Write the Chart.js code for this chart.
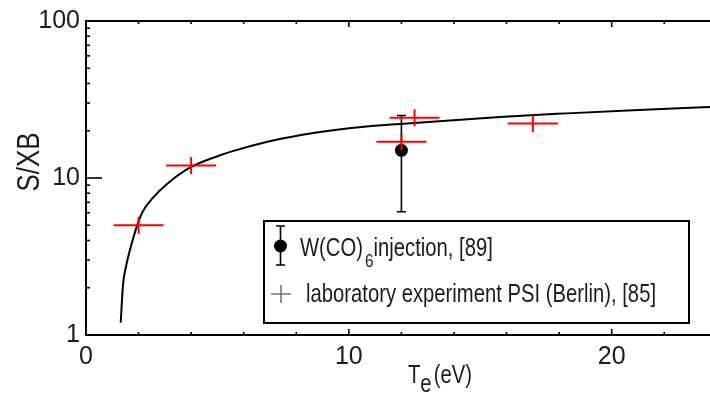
<!DOCTYPE html>
<html>
<head>
<meta charset="utf-8">
<script src="https://cdn.jsdelivr.net/npm/chart.js@4.4.1/dist/chart.umd.min.js"></script>
<style>
  html, body { margin: 0; padding: 0; background: #ffffff; }
  #wrap { width: 710px; height: 394px; }
</style>
</head>
<body>
<div id="wrap"><canvas id="c" width="710" height="394"></canvas></div>
<script>
const TEXT_COLOR = '#1c1c1c';
const FONT = '"Liberation Sans", Arial, sans-serif';
const SQUEEZE = 0.81;   // horizontal compression for the condensed-looking labels

// Model S/XB curve versus electron temperature
const curveTe  = [1.32, 1.41, 1.54, 1.73, 1.96, 2.17, 2.55, 3.06, 3.95, 5.02, 5.58, 6.87, 8.13, 9.4, 10.67, 11.94, 15.75, 18.29, 20.82, 23.74];
const curveSxb = [1.2, 2.1, 2.82, 3.78, 5.07, 6.16, 7.49, 9.09, 11.63, 13.8, 14.84, 16.96, 18.71, 20.13, 21.26, 22.11, 24.5, 25.8, 27.0, 28.3];

// Laboratory experiment PSI (Berlin), [85]
const labTe    = [2, 4, 12, 12.5, 17];
const labSxb   = [5.0, 12.0, 17.0, 24.2, 22.2];
const labTeErr = [0.95, 0.95, 0.95, 0.95, 0.95];

// W(CO)6 injection, [89]
const injTe   = [12];
const injSxb  = [15];
const injLow  = [6.1];
const injHigh = [25];

// Axis ticks and labels
const xTicks = [0, 2, 4, 6, 8, 10, 12, 14, 16, 18, 20, 22];
const xTickLabels = [0, 10, 20];
const yTicks = [1, 2, 3, 4, 5, 6, 7, 8, 9, 10, 20, 30, 40, 50, 60, 70, 80, 90, 100];
const yTickLabels = [1, 10, 100];

const X_MIN = 0, X_MAX = 23.74;

// draw text horizontally compressed, returns advance width
function squeezedText(ctx, text, x, y) {
  ctx.save();
  ctx.translate(x, y);
  ctx.scale(SQUEEZE, 1);
  ctx.fillText(text, 0, 0);
  ctx.restore();
  return ctx.measureText(text).width * SQUEEZE;
}

const framePlugin = {
  id: 'frame',
  beforeDatasetsDraw(chart) {
    // vertical error bar of the injection measurement
    const { ctx, scales: { x, y } } = chart;
    ctx.save();
    ctx.strokeStyle = '#000';
    ctx.lineWidth = 1.6;
    injTe.forEach((t, i) => {
      const px = x.getPixelForValue(t);
      const top = y.getPixelForValue(injHigh[i]);
      const bot = y.getPixelForValue(injLow[i]);
      ctx.beginPath();
      ctx.moveTo(px, top); ctx.lineTo(px, bot);
      ctx.moveTo(px - 4.5, top); ctx.lineTo(px + 4.5, top);
      ctx.moveTo(px - 4.5, bot); ctx.lineTo(px + 4.5, bot);
      ctx.stroke();
    });
    ctx.restore();
  },
  afterDatasetsDraw(chart) {
    const { ctx, scales: { x, y } } = chart;
    ctx.save();
    // horizontal error bars of the laboratory points
    ctx.strokeStyle = '#ff0000';
    ctx.lineWidth = 2;
    labTe.forEach((t, i) => {
      const py = y.getPixelForValue(labSxb[i]);
      ctx.beginPath();
      ctx.moveTo(x.getPixelForValue(t - labTeErr[i]), py);
      ctx.lineTo(x.getPixelForValue(t + labTeErr[i]), py);
      ctx.stroke();
    });
    ctx.restore();
  },
  afterDraw(chart) {
    const { ctx, chartArea: a, scales: { x, y } } = chart;
    ctx.save();
    ctx.strokeStyle = '#000';
    ctx.lineWidth = 2;
    // top frame line
    ctx.beginPath();
    ctx.moveTo(a.left, a.top); ctx.lineTo(a.right + 2, a.top);
    ctx.stroke();
    // inward ticks on x axes
    ctx.lineWidth = 1.6;
    xTicks.forEach(v => {
      const px = x.getPixelForValue(v);
      const len = (v % 10 === 0) ? 6 : 3;
      ctx.beginPath();
      ctx.moveTo(px, a.bottom); ctx.lineTo(px, a.bottom - len);
      ctx.moveTo(px, a.top); ctx.lineTo(px, a.top + len);
      ctx.stroke();
    });
    // inward ticks on y axis
    yTicks.forEach(v => {
      const py = y.getPixelForValue(v);
      const len = yTickLabels.includes(v) ? 16 : 4;
      ctx.beginPath();
      ctx.moveTo(a.left, py); ctx.lineTo(a.left + len, py);
      ctx.stroke();
    });

    // axis titles
    ctx.fillStyle = TEXT_COLOR;
    ctx.textBaseline = 'alphabetic';
    ctx.textAlign = 'left';
    ctx.save();
    ctx.translate(39, 162);
    ctx.rotate(-Math.PI / 2);
    ctx.font = '32px ' + FONT;
    const tw = ctx.measureText('S/XB').width * SQUEEZE;
    squeezedText(ctx, 'S/XB', -tw / 2, 0);
    ctx.restore();

    ctx.font = '25px ' + FONT;
    let tx = 408;
    tx += squeezedText(ctx, 'T', tx, 383);
    tx += squeezedText(ctx, 'e', tx, 392) + 2;
    squeezedText(ctx, '(eV)', tx, 383);

    // legend box
    ctx.fillStyle = '#fff';
    ctx.fillRect(264, 221, 425, 102);
    ctx.strokeStyle = '#000';
    ctx.lineWidth = 2;
    ctx.strokeRect(264, 221, 425, 102);

    // legend entry 1: filled dot with error bar
    ctx.lineWidth = 1.6;
    ctx.beginPath();
    ctx.moveTo(280.5, 226); ctx.lineTo(280.5, 265);
    ctx.moveTo(276, 226); ctx.lineTo(285, 226);
    ctx.moveTo(276, 265); ctx.lineTo(285, 265);
    ctx.stroke();
    ctx.fillStyle = '#000';
    ctx.beginPath();
    ctx.arc(280.5, 246, 6.5, 0, Math.PI * 2);
    ctx.fill();

    ctx.fillStyle = TEXT_COLOR;
    ctx.font = '25px ' + FONT;
    let lx = 300;
    lx += squeezedText(ctx, 'W(CO)', lx, 256) + 2;
    ctx.font = '19px ' + FONT;
    lx += squeezedText(ctx, '6', lx, 267);
    ctx.font = '25px ' + FONT;
    squeezedText(ctx, 'injection, [89]', lx, 256);

    // legend entry 2: grey cross
    ctx.strokeStyle = '#777';
    ctx.lineWidth = 1.6;
    ctx.beginPath();
    ctx.moveTo(271, 294); ctx.lineTo(291, 294);
    ctx.moveTo(281, 285); ctx.lineTo(281, 303);
    ctx.stroke();
    ctx.fillStyle = TEXT_COLOR;
    squeezedText(ctx, 'laboratory experiment PSI (Berlin), [85]', 306, 302);

    ctx.restore();
  }
};

new Chart(document.getElementById('c'), {
  type: 'scatter',
  data: {
    datasets: [
      {
        label: 'laboratory experiment PSI (Berlin), [85]',
        data: labTe.map((t, i) => ({ x: t, y: labSxb[i] })),
        pointStyle: 'line',
        rotation: 90,
        radius: 8.5,
        borderColor: '#ff0000',
        backgroundColor: '#ff0000',
        borderWidth: 2
      },
      {
        label: 'W(CO)6 injection, [89]',
        data: injTe.map((t, i) => ({ x: t, y: injSxb[i] })),
        pointStyle: 'circle',
        radius: 6.5,
        borderWidth: 0,
        backgroundColor: '#000000',
        borderColor: '#000000'
      },
      {
        type: 'line',
        label: 'S/XB',
        data: curveTe.map((t, i) => ({ x: t, y: curveSxb[i] })),
        borderColor: '#000000',
        borderWidth: 2,
        pointRadius: 0,
        fill: false,
        cubicInterpolationMode: 'monotone'
      }
    ]
  },
  options: {
    responsive: false,
    animation: false,
    devicePixelRatio: 1,
    layout: { autoPadding: false, padding: { top: 20, right: 0, left: 0, bottom: 0 } },
    plugins: { legend: { display: false }, tooltip: { enabled: false } },
    scales: {
      x: {
        type: 'linear',
        min: X_MIN,
        max: X_MAX,
        afterBuildTicks: s => { s.ticks = xTicks.map(v => ({ value: v })); },
        afterFit: s => { s.height = 59; },
        grid: { display: false, drawTicks: false },
        border: { display: true, color: '#000', width: 2 },
        ticks: {
          autoSkip: false,
          maxRotation: 0,
          padding: 7,
          color: TEXT_COLOR,
          font: { family: FONT, size: 25 },
          callback: v => xTickLabels.includes(v) ? String(v) : ''
        }
      },
      y: {
        type: 'logarithmic',
        min: 1,
        max: 100,
        afterBuildTicks: s => { s.ticks = yTicks.map(v => ({ value: v })); },
        afterFit: s => { s.width = 86; },
        grid: { display: false, drawTicks: false },
        border: { display: true, color: '#000', width: 2 },
        ticks: {
          autoSkip: false,
          padding: 6,
          color: TEXT_COLOR,
          font: { family: FONT, size: 25 },
          callback: v => yTickLabels.includes(v) ? String(v) : ''
        }
      }
    }
  },
  plugins: [framePlugin]
});
</script>
</body>
</html>
